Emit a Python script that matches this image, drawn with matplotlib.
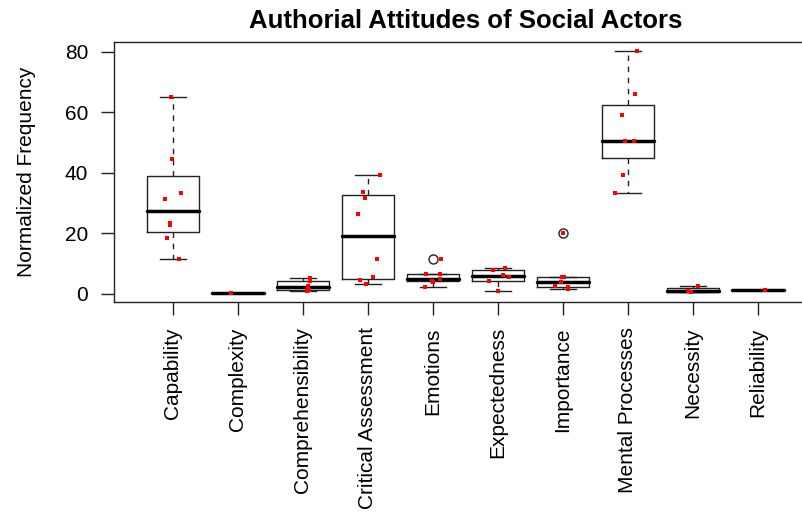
import math
import matplotlib
matplotlib.use("Agg")
import matplotlib.pyplot as plt

plt.rcParams['font.family'] = ['Liberation Sans', 'DejaVu Sans']

categories = ["Capability", "Complexity", "Comprehensibility", "Critical Assessment",
              "Emotions", "Expectedness", "Importance", "Mental Processes",
              "Necessity", "Reliability"]

capability = [65.1, 44.7, 33.4, 31.4, 23.5, 22.8, 18.3, 11.4]
complexity = [0.4]
comprehensibility = [1.0, 1.1, 2.1, 2.7, 4.3, 5.3]
critical_assessment = [3.2, 4.5, 5.4, 11.5, 26.4, 31.8, 33.6, 39.2]
emotions = [2.2, 3.9, 4.4, 5.0, 6.4, 6.6, 11.4]
expectedness = [1.0, 4.2, 5.5, 6.3, 7.8, 8.4]
importance = [1.7, 2.1, 2.7, 4.0, 5.6, 5.7, 20.0]
mental_processes = [33.4, 39.1, 50.4, 50.4, 59.1, 66.0, 80.2]
necessity = [0.5, 1.0, 2.7]
reliability = [1.4]

# horizontal jitter of the red points
jit_capability = [-0.03, -0.01, 0.12, -0.13, -0.05, -0.05, -0.09, 0.10]
jit_complexity = [-0.11]
jit_comprehensibility = [0.06, 0.09, 0.07, 0.08, 0.11, 0.11]
jit_critical_assessment = [-0.03, -0.13, 0.08, 0.14, -0.15, -0.04, -0.07, 0.18]
jit_emotions = [-0.13, 0.0, -0.02, 0.11, 0.11, -0.10, 0.13]
jit_expectedness = [0.0, -0.14, 0.17, 0.07, -0.08, 0.11]
jit_importance = [0.07, 0.07, -0.12, -0.03, -0.02, 0.02, 0.0]
jit_mental_processes = [-0.20, -0.08, -0.05, 0.10, -0.09, 0.11, 0.14]
jit_necessity = [-0.03, -0.07, 0.08]
jit_reliability = [0.11]

series = [capability, complexity, comprehensibility, critical_assessment, emotions,
          expectedness, importance, mental_processes, necessity, reliability]
jitters = [jit_capability, jit_complexity, jit_comprehensibility, jit_critical_assessment,
           jit_emotions, jit_expectedness, jit_importance, jit_mental_processes,
           jit_necessity, jit_reliability]

yticks = [0, 20, 40, 60, 80]


def fivenum(v):
    x = sorted(v)
    n = len(x)
    n4 = math.floor((n + 3) / 2) / 2
    d = [1, n4, (n + 1) / 2, n + 1 - n4, n]
    return [0.5 * (x[math.floor(k) - 1] + x[math.ceil(k) - 1]) for k in d]


def box_stats(v, coef=1.5):
    s = fivenum(v)
    iqr = s[3] - s[1]
    out = [a for a in v if a < s[1] - coef * iqr or a > s[3] + coef * iqr]
    inn = [a for a in v if a not in out]
    return dict(whislo=min(inn), q1=s[1], med=s[2], q3=s[3], whishi=max(inn), fliers=out)


W, H = 803, 516
fig = plt.figure(figsize=(W / 100, H / 100), dpi=100)
left, right, top, bottom = 114.5, 816.5, 42, 302
ax = fig.add_axes([left / W, 1 - bottom / H, (right - left) / W, (bottom - top) / H])

positions = list(range(1, len(categories) + 1))
stats = [box_stats(v) for v in series]
lw = 1.0
ax.bxp(stats, positions=positions, widths=0.8, capwidths=0.4, showfliers=True,
       boxprops=dict(color='#222222', linewidth=lw),
       whiskerprops=dict(color='#222222', linewidth=lw, linestyle=(0, (4, 4))),
       capprops=dict(color='#222222', linewidth=lw),
       medianprops=dict(color='black', linewidth=2.5, solid_capstyle='round'),
       flierprops=dict(marker='o', markersize=6.5, markerfacecolor='none',
                       markeredgecolor='#222222', markeredgewidth=lw, linestyle='none'))

for p, v, j in zip(positions, series, jitters):
    ax.plot([p + o for o in j], v, linestyle='none', marker='s', markersize=2.5,
            markeredgewidth=0, color='red', zorder=5)

ax.set_xlim(0.1, 10.9)
ax.set_ylim(-2.7, 83.2)
ax.set_yticks(yticks)
ax.set_yticklabels([str(t) for t in yticks])
ax.set_xticks(positions)
ax.set_xticklabels(categories, rotation=90, va='top', ha='center')
ax.tick_params(axis='both', direction='out', length=9.4, width=lw, color='#222222',
               labelsize=15, labelcolor='black')
ax.tick_params(axis='y', pad=9.6)
ax.tick_params(axis='x', pad=8.7)
for s in ax.spines.values():
    s.set_linewidth(lw)
    s.set_color('#222222')

ax.set_ylabel("Normalized Frequency", fontsize=15, labelpad=21)
ax.set_title("Authorial Attitudes of Social Actors", fontsize=18.5, fontweight='bold', pad=10)

fig.savefig("out.png", dpi=100)
